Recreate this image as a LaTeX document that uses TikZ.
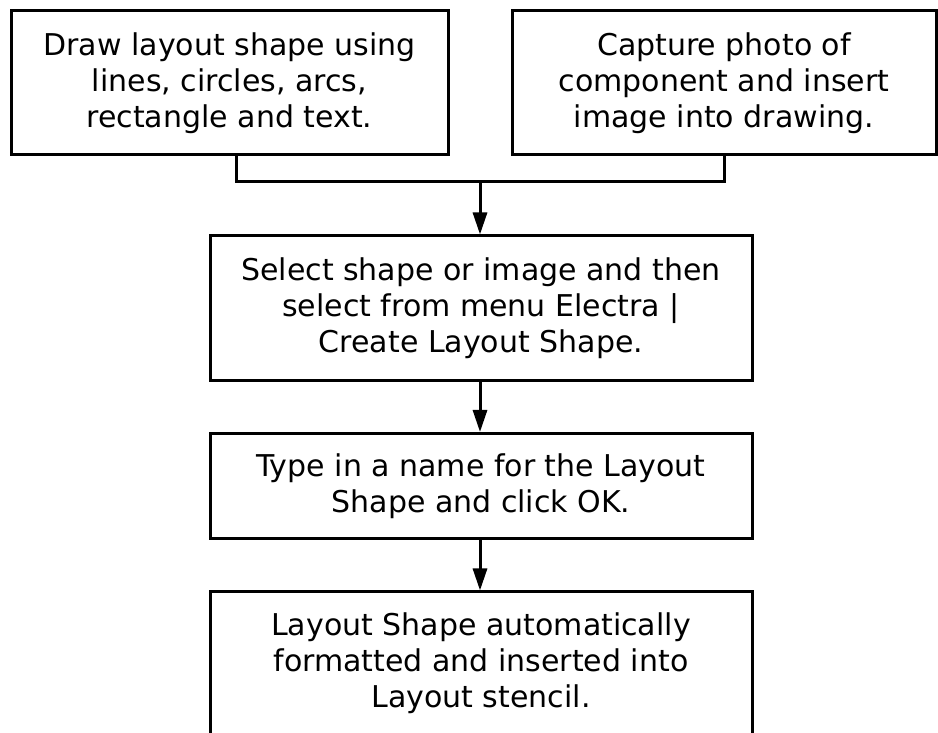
\documentclass[tikz,border=0pt]{standalone}
\usepackage{fontspec}
\setmainfont{DejaVu Sans}
\usetikzlibrary{arrows.meta}

\begin{document}
\begin{tikzpicture}[x=1pt, y=1pt,
    stepbox/.style={draw, line width=3pt, inner sep=0pt, align=center,
      font=\fontsize{30}{36}\selectfont},
    flow/.style={line width=3pt},
    flowarrow/.style={line width=3pt, -{Triangle[length=22pt,width=14pt]}}]
    \useasboundingbox (0,0) rectangle (938,733);
    \node[stepbox, minimum width=437, minimum height=144] (draw) at (229.5,650)
      {Draw layout shape using\\lines, circles, arcs,\\rectangle and text.};
    \node[stepbox, minimum width=424, minimum height=144] (photo) at (724,650)
      {Capture photo of\\component and insert\\image into drawing.};
    \node[stepbox, minimum width=542, minimum height=145] (select) at (481,424.5)
      {Select shape or image and then\\select from menu Electra |\\Create Layout Shape.};
    \node[stepbox, minimum width=542, minimum height=105] (name) at (481,247)
      {Type in a name for the Layout\\Shape and click OK.};
    \node[stepbox, minimum width=542, minimum height=143] (stencil) at (481,69.5)
      {Layout Shape automatically\\formatted and inserted into\\Layout stencil.};
    \coordinate (join) at (480,551);
    \draw[flow] ([xshift=6.5pt]draw.south) |- (join) -| (photo.south);
    \draw[flowarrow] (join) -- (join |- select.north);
    \draw[flowarrow] (select.south -| join) -- (join |- name.north);
    \draw[flowarrow] (name.south -| join) -- (join |- stencil.north);
\end{tikzpicture}
\end{document}
